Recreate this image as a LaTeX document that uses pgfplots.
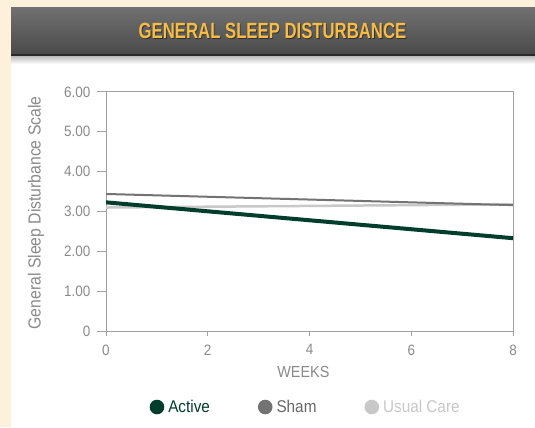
\documentclass[border=0pt]{standalone}
\usepackage{pgfplots}
\pgfplotsset{compat=1.18}
\usepackage{fontspec}
\setmainfont{Liberation Sans}[FakeStretch=0.9]
\newfontfamily\titlefont{Liberation Sans}[FakeStretch=0.76]

\definecolor{cream}{HTML}{FDF1DC}
\definecolor{hdrtop}{HTML}{707070}
\definecolor{hdrbot}{HTML}{4A4A4A}
\definecolor{hdrline}{HTML}{2A2A2A}
\definecolor{titlegold}{HTML}{F6BC45}
\definecolor{activegreen}{HTML}{003D2B}
\definecolor{shamgray}{HTML}{737373}
\definecolor{usualgray}{HTML}{C8C8C8}
\definecolor{axisgray}{HTML}{A0A0A0}
\definecolor{labelgray}{HTML}{8A8A8A}

\begin{document}
\begin{tikzpicture}[x=1bp,y=1bp]
\useasboundingbox (0,0) rectangle (535,427);
\fill[cream] (0,0) rectangle (535,427);
\fill[white] (11,0) rectangle (535,372);
\shade[top color=black!30, bottom color=white] (11,363) rectangle (535,372);
\shade[top color=hdrtop, bottom color=hdrbot] (11,373) rectangle (535,419);
\fill[hdrline] (11,371.5) rectangle (535,373.5);
% title with a soft dark shadow
\node[text=black, opacity=0.45, font=\titlefont\bfseries\fontsize{22bp}{26bp}\selectfont]
  at (273.3,395.2) {GENERAL SLEEP DISTURBANCE};
\node[text=titlegold, font=\titlefont\bfseries\fontsize{22bp}{26bp}\selectfont]
  at (272.5,396) {GENERAL SLEEP DISTURBANCE};

\begin{axis}[at={(106bp,96bp)}, anchor=south west, scale only axis,
  width=407bp, height=239bp,
  xmin=0, xmax=8, ymin=0, ymax=6,
  xtick={0,2,4,6,8}, ytick={0,1,2,3,4,5,6},
  yticklabels={0,1.00,2.00,3.00,4.00,5.00,6.00},
  xtick pos=bottom, ytick pos=left,
  /pgf/number format/assume math mode=true,
  axis line style={draw=axisgray, line width=1bp},
  tick align=outside, major tick length=9bp,
  xtick style={draw=axisgray, line width=1bp, /pgfplots/major tick length=5bp},
  ytick style={draw=axisgray, line width=1bp},
  tick label style={text=labelgray, font=\fontsize{15bp}{18bp}\selectfont},
  xticklabel style={yshift=-1bp},
  yticklabel style={xshift=-3bp},
  xlabel={WEEKS}, ylabel={General Sleep Disturbance Scale},
  label style={text=labelgray},
  xlabel style={font=\fontsize{16bp}{19bp}\selectfont, at={(axis description cs:0.485,-0.17)}, anchor=center},
  ylabel style={font=\fontsize{17.5bp}{20bp}\selectfont, at={(axis description cs:-0.172,0.494)}, anchor=center},
  legend columns=3, reverse legend,
  legend style={draw=none, fill=none, at={(0.493,-0.318)}, anchor=center,
    font=\fontsize{17bp}{20bp}\selectfont,
    /tikz/every odd column/.append style={column sep=0bp},
    /tikz/every even column/.append style={column sep=44bp},
    nodes={inner xsep=4bp}},
  legend image code/.code={\fill[#1, draw=none] (4bp,0bp) circle (7.3bp);},
]
\addplot[usualgray, line width=2.5bp] coordinates {(0,3.10) (8,3.18)};
\addlegendentry{\textcolor{usualgray}{Usual Care}}
\addplot[shamgray, line width=2bp] coordinates {(0,3.44) (8,3.16)};
\addlegendentry{\textcolor{shamgray!90!black}{Sham}}
\addplot[activegreen, line width=4bp] coordinates {(0,3.23) (8,2.33)};
\addlegendentry{\textcolor{activegreen}{Active}}
\end{axis}
\end{tikzpicture}
\end{document}
